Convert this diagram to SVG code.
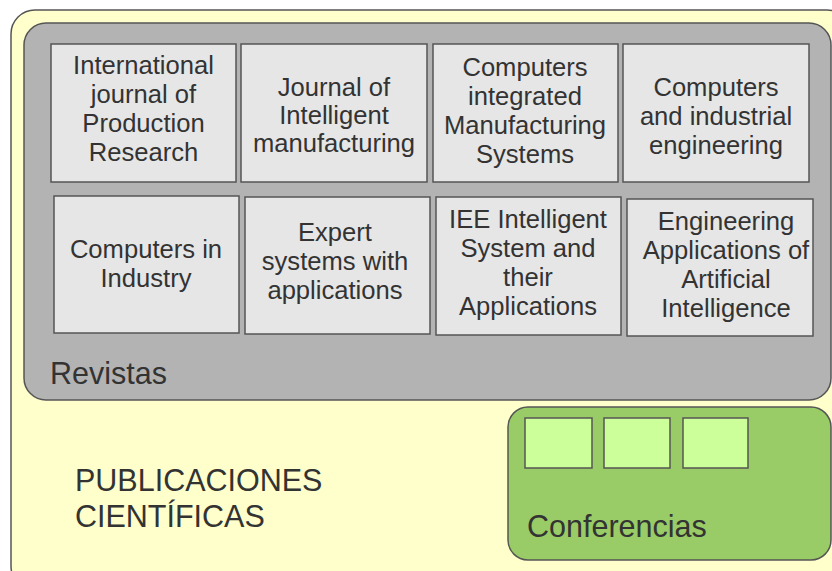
<svg xmlns="http://www.w3.org/2000/svg" width="832" height="571" viewBox="0 0 832 571">
<style>
.c{stroke:#555555;stroke-width:1.5}
.j{fill:#e6e6e6;stroke:#555555;stroke-width:1.5}
.k{fill:#ccff99;stroke:#555555;stroke-width:1.5}
text{font-family:"Liberation Sans",Arial,sans-serif;fill:#333333}
.t{font-size:25.6px;text-anchor:middle}
.b{font-size:30.5px}
</style>
<rect width="832" height="571" fill="#ffffff"/>
<g id="publicaciones">
<rect class="c" x="11" y="10" width="840" height="580" rx="24" fill="#ffffcc"/>
<text class="b" x="75" y="491">PUBLICACIONES</text>
<text class="b" x="75" y="527">CIENTÍFICAS</text>
</g>
<g id="revistas">
<rect class="c" x="24" y="23" width="807" height="377" rx="22" fill="#b3b3b3"/>
<text class="b" x="50" y="384">Revistas</text>
</g>
<g id="n1"><rect class="j" x="51" y="44" width="185" height="138"/>
<text class="t" x="143.5" y="74">International</text><text class="t" x="143.5" y="103">journal of</text><text class="t" x="143.5" y="132">Production</text><text class="t" x="143.5" y="161">Research</text></g>
<g id="n2"><rect class="j" x="241" y="44" width="186" height="138"/>
<text class="t" x="334" y="96">Journal of</text><text class="t" x="334" y="124">Intelligent</text><text class="t" x="334" y="152">manufacturing</text></g>
<g id="n3"><rect class="j" x="433" y="44" width="185" height="138"/>
<text class="t" x="525" y="76">Computers</text><text class="t" x="525" y="105">integrated</text><text class="t" x="525" y="134">Manufacturing</text><text class="t" x="525" y="163">Systems</text></g>
<g id="n4"><rect class="j" x="623" y="44" width="186" height="138"/>
<text class="t" x="716" y="96">Computers</text><text class="t" x="716" y="125">and industrial</text><text class="t" x="716" y="154">engineering</text></g>
<g id="n5"><rect class="j" x="54" y="196" width="185" height="137"/>
<text class="t" x="146" y="258">Computers in</text><text class="t" x="146" y="287">Industry</text></g>
<g id="n6"><rect class="j" x="245" y="197" width="185" height="137"/>
<text class="t" x="335" y="241">Expert</text><text class="t" x="335" y="270">systems with</text><text class="t" x="335" y="299">applications</text></g>
<g id="n7"><rect class="j" x="436" y="197" width="185" height="138"/>
<text class="t" x="528" y="228">IEE Intelligent</text><text class="t" x="528" y="257">System and</text><text class="t" x="528" y="286">their</text><text class="t" x="528" y="315">Applications</text></g>
<g id="n8"><rect class="j" x="627" y="199" width="186" height="137"/>
<text class="t" x="726" y="230">Engineering</text><text class="t" x="726" y="259">Applications of</text><text class="t" x="726" y="288">Artificial</text><text class="t" x="726" y="317">Intelligence</text></g>
<g id="conferencias">
<rect class="c" x="508" y="407" width="323" height="153" rx="20" fill="#99cc66"/>
<text class="b" x="527" y="537">Conferencias</text>
</g>
<g id="c1"><rect class="k" x="525" y="418" width="67" height="50"/></g>
<g id="c2"><rect class="k" x="604" y="418" width="66" height="50"/></g>
<g id="c3"><rect class="k" x="683" y="418" width="65" height="50"/></g>
<g id="connectors"/>
</svg>
